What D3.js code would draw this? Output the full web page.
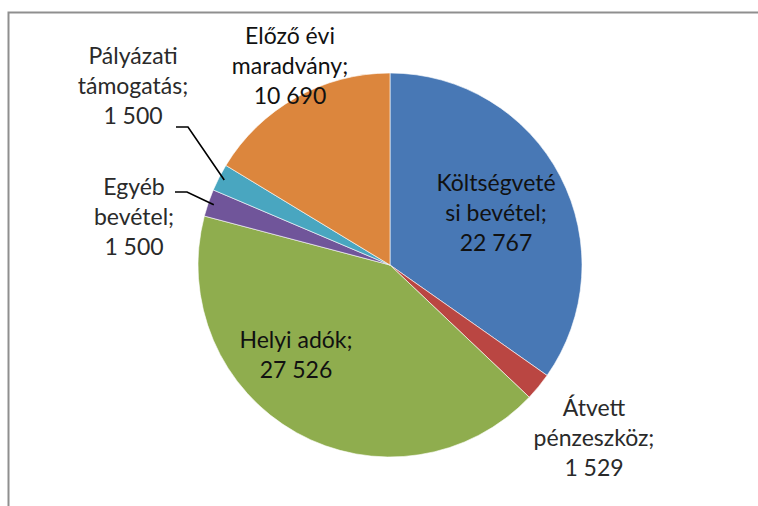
<!DOCTYPE html>
<html><head><meta charset="utf-8">
<script src="https://cdn.jsdelivr.net/npm/d3@7"></script>
<style>html,body{margin:0;padding:0;background:#fff;}svg{display:block;}</style>
</head><body>
<svg id="chart" width="758" height="506"></svg>
<script>
const categories = ["Költségvetési bevétel","Átvett pénzeszköz","Helyi adók","Egyéb bevétel","Pályázati támogatás","Előző évi maradvány"];
const values = [22767, 1529, 27526, 1500, 1500, 10690];
const valueLabels = ["22 767","1 529","27 526","1 500","1 500","10 690"];
const labelLines = [["Költségveté","si bevétel;"],["Átvett","pénzeszköz;"],["Helyi adók;"],["Egyéb","bevétel;"],["Pályázati","támogatás;"],["Előző évi","maradvány;"]];
const colors = ["#4878B5","#BA4642","#8FAD4E","#70559A","#49A6C0","#DC863D"];

// layout (positions of label blocks relative to pie centre: first line centre)
const layout = {cx:390, cy:265, r:192, font:23, lh:30};
const labelPos = [[106,-82],[204,143],[-94,75],[-256,-78],[-257,-209],[-100,-229]];
const leaders = [null,null,null,
  [[-215,-73],[-203,-73]],
  [[-214,-138],[-202,-138]],
  null];

const svg = d3.select("#chart");
svg.append("rect").attr("x",8.5).attr("y",12.5).attr("width",800).attr("height",600)
  .attr("fill","none").attr("stroke","#8f8f8f").attr("stroke-width",2);

const g = svg.append("g").attr("transform",`translate(${layout.cx},${layout.cy})`);
const pie = d3.pie().sort(null).value(d=>d);
const arcs = pie(values);
const arc = d3.arc().innerRadius(0).outerRadius(layout.r);
g.selectAll("path.slice").data(arcs).join("path").attr("class","slice")
  .attr("d",arc).attr("fill",(d,i)=>colors[i]).attr("stroke","#fff").attr("stroke-width",0.6);

// leader lines: from label end to slice edge at mid angle
const edge = d3.arc().innerRadius(layout.r*0.97).outerRadius(layout.r*0.97);
arcs.forEach((a,i)=>{
  if(!leaders[i]) return;
  const p = edge.centroid(a);
  const pts = leaders[i].concat([p]);
  g.append("path").attr("d",d3.line()(pts)).attr("fill","none").attr("stroke","#000").attr("stroke-width",1.6);
});

arcs.forEach((a,i)=>{
  const lines = labelLines[i].concat([valueLabels[i]]);
  const t = g.append("text").attr("text-anchor","middle")
    .attr("font-family","Lato, 'Open Sans', sans-serif").attr("font-size",layout.font)
    .attr("fill", i===0||i===2||i===5 ? "#111" : "#2a2a2a");
  lines.forEach((l,k)=>{
    t.append("tspan").attr("x",labelPos[i][0]).attr("y",labelPos[i][1]+k*layout.lh+8).text(l);
  });
});
</script>
</body></html>
